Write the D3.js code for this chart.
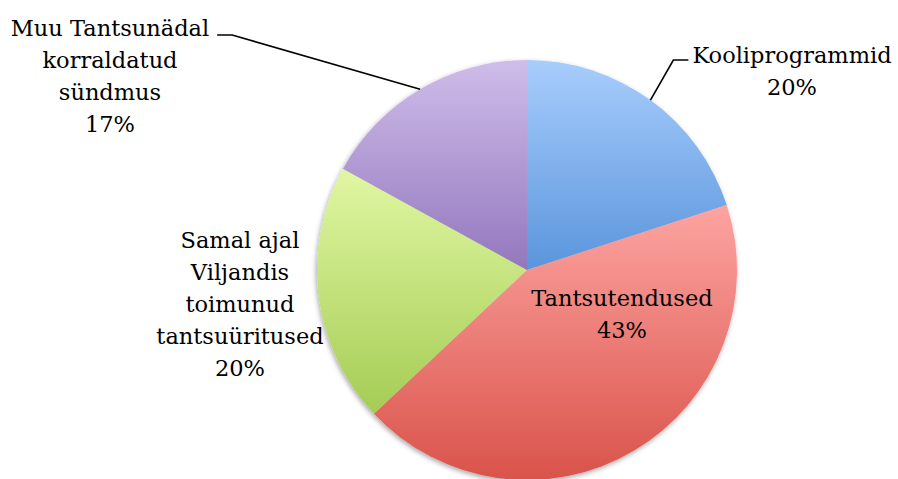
<!DOCTYPE html>
<html><head><meta charset="utf-8">
<script src="https://cdn.jsdelivr.net/npm/d3@7"></script>
<style>html,body{margin:0;padding:0;background:#fff;}svg{display:block;}</style>
</head><body>
<script>
const categories = ["Kooliprogrammid", "Tantsutendused", "Samal ajal Viljandis toimunud tantsuüritused", "Muu Tantsunädal korraldatud sündmus"];
const values = [20, 43, 20, 17];
const labelLines = [["Kooliprogrammid"], ["Tantsutendused"], ["Samal ajal", "Viljandis", "toimunud", "tantsuüritused"], ["Muu Tantsunädal", "korraldatud", "sündmus"]];
const topColors = ["#a8cdfc", "#fda4a1", "#e0f7a2", "#cfbdea"];
const bottomColors = ["#5a95dc", "#d9534a", "#a5cc55", "#9377bd"];

const W = 898, H = 479, cx = 527, cy = 270, R = 210;
const fontSize = 22.5, lineH = 32;
const fontFamily = "DejaVu Serif";
// label anchor (center x, first-line center y, leader y)
const labelLayout = [
  {x: 792, y: 55, ly: 60, leader: "left"},
  {x: 622, y: 298, leader: null},
  {x: 240, y: 240, leader: null},
  {x: 110, y: 28, ly: 35, leader: "right"}
];

const svg = d3.select("body").append("svg").attr("width", W).attr("height", H);
const defs = svg.append("defs");
const f = defs.append("filter").attr("id", "sh").attr("x", "-20%").attr("y", "-20%").attr("width", "140%").attr("height", "140%");
f.append("feDropShadow").attr("dx", -1).attr("dy", 2).attr("stdDeviation", 2.5).attr("flood-color", "#000").attr("flood-opacity", 0.35);

const pie = d3.pie().sort(null).value(d => d)(values);
const arc = d3.arc().innerRadius(0).outerRadius(R);

const g = svg.append("g").attr("transform", `translate(${cx},${cy})`);

pie.forEach((p, i) => {
  const pts = [[0, 0]];
  for (let k = 0; k <= 60; k++) {
    const a = p.startAngle + (p.endAngle - p.startAngle) * k / 60;
    pts.push([R * Math.sin(a), -R * Math.cos(a)]);
  }
  const ys = pts.map(q => q[1]);
  const gr = defs.append("linearGradient").attr("id", "gr" + i)
    .attr("gradientUnits", "userSpaceOnUse")
    .attr("x1", 0).attr("x2", 0).attr("y1", d3.min(ys)).attr("y2", d3.max(ys));
  gr.append("stop").attr("offset", "0%").attr("stop-color", topColors[i]);
  gr.append("stop").attr("offset", "100%").attr("stop-color", bottomColors[i]);
});

g.append("g").attr("filter", "url(#sh)")
  .selectAll("path").data(pie).join("path")
  .attr("d", arc)
  .attr("fill", (d, i) => `url(#gr${i})`);

const fmt = d3.format(".0%");
const total = d3.sum(values);

pie.forEach((p, i) => {
  const L = labelLayout[i];
  const lines = labelLines[i].concat([fmt(values[i] / total)]);
  const t = svg.append("text")
    .attr("font-family", fontFamily)
    .attr("font-size", fontSize)
    .attr("fill", "#000")
    .attr("text-anchor", "middle");
  lines.forEach((s, k) => {
    t.append("tspan").attr("x", L.x).attr("y", L.y + k * lineH).attr("dy", "0.35em").text(s);
  });
  if (L.leader) {
    const mid = (p.startAngle + p.endAngle) / 2;
    const px = cx + R * Math.sin(mid), py = cy - R * Math.cos(mid);
    const firstW = t.select("tspan").node().getComputedTextLength();
    let x0, x1;
    if (L.leader === "left") { x0 = L.x - firstW / 2 - 4; x1 = x0 - 15; }
    else { x0 = L.x + firstW / 2 + 8; x1 = x0 + 15; }
    svg.append("path")
      .attr("d", `M${x0},${L.ly}L${x1},${L.ly}L${px},${py}`)
      .attr("fill", "none").attr("stroke", "#000").attr("stroke-width", 1.6);
  }
});
</script>
</body></html>
